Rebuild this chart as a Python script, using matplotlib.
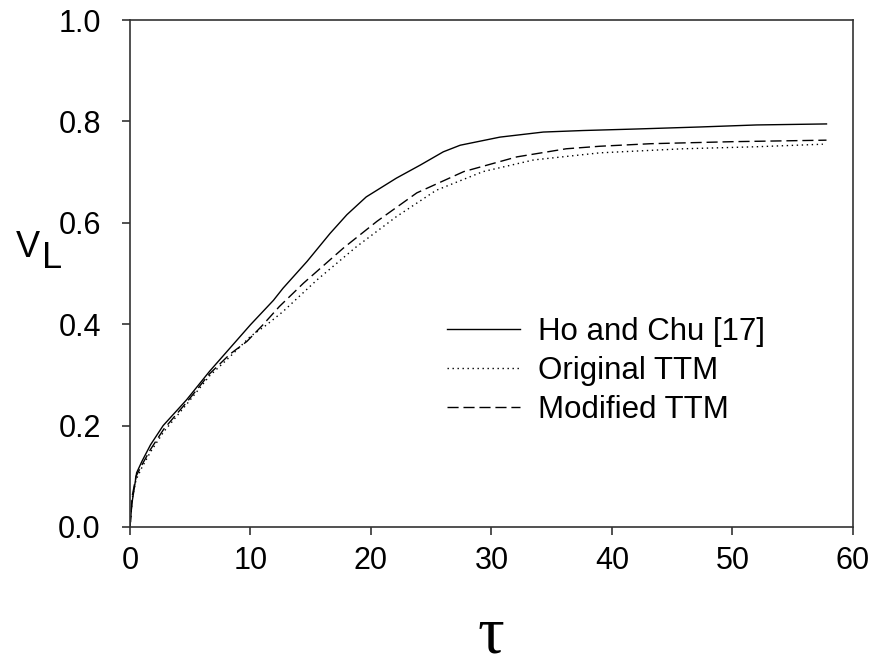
import matplotlib
matplotlib.use("Agg")
import matplotlib.pyplot as plt

# Data
tau_ho = [0, 0.15, 0.55, 1.0, 1.7, 2.75, 4.7, 6.6, 8.3, 10.0, 11.9, 12.7, 14.7, 16.6, 18.0, 19.6,
          22.1, 24.1, 26.0, 27.4, 30.7, 34.3, 37.6, 42.0, 47.3, 52.0, 57.8]
v_ho = [0.0, 0.045, 0.107, 0.130, 0.162, 0.200, 0.251, 0.307, 0.353, 0.399, 0.447, 0.471, 0.524,
        0.579, 0.616, 0.651, 0.688, 0.714, 0.740, 0.753, 0.769, 0.779, 0.782, 0.785, 0.789, 0.793, 0.795]

tau_orig = [0, 0.2, 0.5, 1.0, 1.7, 2.8, 4.7, 6.6, 8.3, 10.0, 11.3, 12.7, 15.5, 18.8, 22.1, 25.4,
            29.3, 33.5, 39.0, 45.9, 52.0, 57.5]
v_orig = [0.0, 0.058, 0.093, 0.118, 0.148, 0.188, 0.242, 0.298, 0.336, 0.376, 0.398, 0.425, 0.487,
          0.553, 0.612, 0.664, 0.701, 0.724, 0.738, 0.746, 0.750, 0.755]

tau_mod = [0, 0.2, 0.5, 1.0, 1.7, 2.8, 4.7, 6.6, 8.3, 9.7, 11.0, 12.4, 14.4, 17.7, 20.5, 23.8,
           27.7, 32.1, 36.2, 39.0, 43.2, 50.0, 57.8]
v_mod = [0.0, 0.063, 0.100, 0.123, 0.153, 0.193, 0.246, 0.302, 0.341, 0.366, 0.398, 0.435, 0.481,
         0.550, 0.603, 0.659, 0.701, 0.730, 0.746, 0.751, 0.756, 0.760, 0.763]

labels = ["Ho and Chu [17]", "Original TTM", "Modified TTM"]
xticks = [0, 10, 20, 30, 40, 50, 60]
yticks = [0.0, 0.2, 0.4, 0.6, 0.8, 1.0]

plt.rcParams['font.family'] = ['Liberation Sans', 'DejaVu Sans']

fig = plt.figure(figsize=(8.79, 6.67), dpi=100)
ax = fig.add_axes([130/879, 140/667, 723/879, 507/667])

ax.plot(tau_ho, v_ho, color='black', lw=1.0, ls='-', label=labels[0])
ax.plot(tau_orig, v_orig, color='black', lw=1.0, ls=(0, (1, 2.6)), label=labels[1])
ax.plot(tau_mod, v_mod, color='black', lw=1.0, ls=(0, (8, 3.5)), label=labels[2])

ax.set_xlim(0, 60)
ax.set_ylim(0, 1.0)
ax.set_xticks(xticks)
ax.set_xticklabels([str(t) for t in xticks])
ax.set_yticks(yticks)
ax.set_yticklabels([f"{t:.1f}" for t in yticks])
ax.tick_params(axis='both', direction='out', length=6, width=1.2, labelsize=22, color='#333333')
ax.tick_params(axis='y', pad=15)
ax.tick_params(axis='x', pad=8)
for s in ax.spines.values():
    s.set_linewidth(1.2)
    s.set_color('#333333')

leg = ax.legend(loc='upper left', bbox_to_anchor=((447-130)/723, (527-317)/507),
                frameon=False, fontsize=22.5, handlelength=2.35, handletextpad=0.57,
                labelspacing=0.28, borderaxespad=0, borderpad=0)

fig.text(491/879, 1 - 636/667, "τ", ha='center', va='center', fontsize=48,
         family=['Liberation Serif', 'DejaVu Serif'])
fig.text(28/879, 1 - 248/667, "V", ha='center', va='center', fontsize=26)
fig.text(52/879, 1 - 258/667, "L", ha='center', va='center', fontsize=26)

fig.savefig("out.png", dpi=100)
